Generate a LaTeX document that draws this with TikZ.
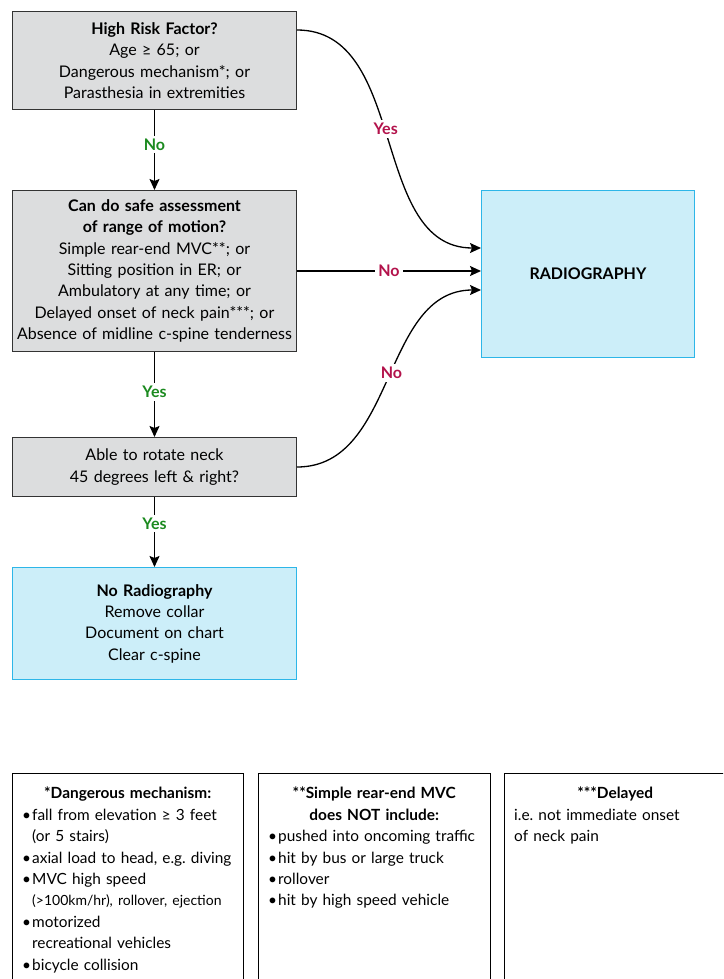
\documentclass[tikz,border=0pt]{standalone}
\usepackage{fontspec}
\setmainfont{Lato}
\usetikzlibrary{arrows.meta,positioning}

\definecolor{boxgray}{HTML}{DCDDDE}
\definecolor{boxline}{HTML}{333333}
\definecolor{bluefill}{HTML}{CCEEF9}
\definecolor{blueline}{HTML}{2DB6E8}
\definecolor{gogreen}{HTML}{1B8A1F}
\definecolor{stopred}{HTML}{B3124B}

\newcommand{\bodyfont}{\fontsize{16}{21.3}\selectfont}
\newcommand{\notefont}{\fontsize{15.4}{21.4}\selectfont\frenchspacing\raggedright\hyphenpenalty=10000\exhyphenpenalty=10000\hbadness=10000\hfuzz=20pt}
\newcommand{\fnitem}{\par\hangindent=10pt\hangafter=1\noindent\hbox to 10pt{\textbullet\hfil}}

\tikzstyle{question} = [rectangle, draw=boxline, fill=boxgray, line width=1pt, minimum width=284pt, text width=280pt, align=center, inner sep=0pt, font=\bodyfont, anchor=north west]
\tikzstyle{outcome} = [rectangle, draw=blueline, fill=bluefill, line width=1pt, align=center, inner sep=0pt, font=\bodyfont, anchor=north west]
\tikzstyle{footbox} = [rectangle, draw=black, line width=1pt, minimum height=230pt, anchor=north west]
\tikzstyle{foottext} = [inner sep=0pt, font=\notefont, anchor=north west]
\tikzstyle{arrow} = [line width=1.3pt, -{Stealth[length=11pt,width=10pt,inset=2pt]}]
\tikzstyle{golabel} = [fill=white, text=gogreen, font=\bodyfont\bfseries, inner sep=3pt]
\tikzstyle{stoplabel} = [fill=white, text=stopred, font=\bodyfont\bfseries, inner sep=3pt]

\begin{document}
\begin{tikzpicture}[x=1pt, y=-1pt]
	\useasboundingbox (0,0) rectangle (723,979);
	\clip (0,0) rectangle (723,979);

	% decision boxes
	\node (risk) [question, minimum height=98pt] at (12,11) {\textbf{High Risk Factor?}\\Age ≥ 65; or\\Dangerous mechanism*; or\\Parasthesia in extremities};
	\node (assess) [question, minimum height=161pt] at (12,190) {\textbf{Can do safe assessment}\\\textbf{of range of motion?}\\Simple rear-end MVC**; or\\Sitting position in ER; or\\Ambulatory at any time; or\\Delayed onset of neck pain***; or\\Absence of midline c-spine tenderness};
	\node (rotate) [question, minimum height=59pt] at (12,437) {Able to rotate neck\\45 degrees left \& right?};
	\node (noradio) [outcome, minimum width=284pt, minimum height=112pt, text width=280pt] at (12,567) {\textbf{No Radiography}\\Remove collar\\Document on chart\\Clear c-spine};
	\node (radio) [outcome, minimum width=213pt, minimum height=167pt] at (481,190) {\textbf{RADIOGRAPHY}};

	% connectors
	\draw [arrow] (risk) -- node[golabel, pos=0.43] {No} (assess);
	\draw [arrow] (assess) -- node[golabel, pos=0.47] {Yes} (rotate);
	\draw [arrow] (rotate) -- node[golabel, pos=0.38] {Yes} (noradio);
	\draw [arrow] ([yshift=-19pt]risk.north east) to[out=0, in=180] node[stoplabel, pos=0.47] {Yes} ([yshift=26pt]radio.west);
	\draw [arrow] (assess.east) -- node[stoplabel] {No} (assess.east -| radio.west);
	\draw [arrow] (rotate.east) to[out=0, in=180] node[stoplabel, pos=0.52] {No} ([yshift=-16pt]radio.west);

	% footnotes
	\node (dangerbox) [footbox, minimum width=231pt] at (12,773) {};
	\node (dangertext) [foottext, text width=211pt, below right=14pt and 10pt of dangerbox.north west] {{\centering\bfseries *Dangerous mechanism:\par}
		\fnitem fall from elevation ≥ 3 feet\newline (or 5 stairs)
		\fnitem axial load to head, e.g. diving
		\fnitem MVC high speed\newline {\fontsize{14}{21.4}\selectfont(>100km/hr), rollover, ejection}
		\fnitem motorized\newline recreational vehicles
		\fnitem bicycle collision\par};
	\node (rearbox) [footbox, minimum width=232pt] at (258,773) {};
	\node (reartext) [foottext, text width=212pt, below right=14pt and 10pt of rearbox.north west] {{\centering\bfseries **Simple rear-end MVC\\does NOT include:\par}
		\fnitem pushed into oncoming traffic
		\fnitem hit by bus or large truck
		\fnitem rollover
		\fnitem hit by high speed vehicle\par};
	\node (delaybox) [footbox, minimum width=222pt] at (504,773) {};
	\node (delaytext) [foottext, text width=202pt, below right=14pt and 10pt of delaybox.north west] {{\centering\bfseries ***Delayed\par}
		i.e. not immediate onset\newline of neck pain\par};
\end{tikzpicture}
\end{document}
